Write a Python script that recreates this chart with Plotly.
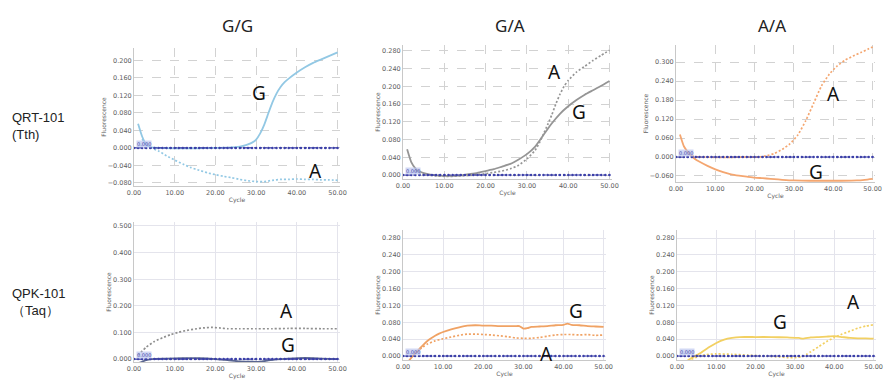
import plotly.graph_objects as go

# ---------------- data ----------------
col_titles = ["G/G", "G/A", "A/A"]
row_labels = ["QRT-101<br>(Tth)", "QPK-101<br>（Taq）"]
x_ticks = [0, 10, 20, 30, 40, 50]
x_ticktext = ["0.00", "10.00", "20.00", "30.00", "40.00", "50.00"]

# Top row (Tth)
tth_gg_G_x = [1, 2, 3, 4, 6, 10, 15, 20, 24, 26, 27, 28, 29, 30, 31, 32, 33, 34, 35, 36, 37, 38, 40, 42, 44, 46, 48, 50]
tth_gg_G_y = [0.055, 0.026, 0.008, 0.002, 0.0, -0.001, -0.001, 0.0, 0.001, 0.003, 0.005, 0.008, 0.012,
              0.019, 0.033, 0.053, 0.079, 0.104, 0.124, 0.139, 0.15, 0.158, 0.172, 0.184, 0.194, 0.202,
              0.21, 0.218]
tth_gg_A_x = [2, 3, 4, 6, 8, 10, 12, 14, 16, 18, 20, 22, 24, 26, 28, 30, 32, 34, 36, 38, 40, 42, 44, 46, 48, 50]
tth_gg_A_y = [0.02, 0.008, 0.001, -0.007, -0.018, -0.028, -0.037, -0.045, -0.051, -0.057, -0.061, -0.065,
              -0.068, -0.072, -0.075, -0.077, -0.077, -0.074, -0.072, -0.072, -0.071, -0.072, -0.072,
              -0.073, -0.073, -0.074]

tth_ga_G_x = [1, 2, 3, 4, 6, 8, 10, 12, 14, 16, 18, 20, 22, 24, 26, 28, 30, 32, 34, 36, 38, 40, 42, 44, 46, 48, 50]
tth_ga_G_y = [0.058, 0.029, 0.015, 0.008, 0.002, -0.001, -0.002, -0.002, -0.001, 0.002, 0.005, 0.009,
              0.013, 0.019, 0.025, 0.035, 0.047, 0.064, 0.09, 0.116, 0.138, 0.155, 0.169, 0.181, 0.191,
              0.201, 0.212]
tth_ga_A_x = [3, 4, 6, 8, 10, 12, 14, 16, 18, 20, 22, 24, 26, 28, 30, 32, 33, 34, 35, 36, 37, 38, 39, 40, 42, 44, 46, 48, 50]
tth_ga_A_y = [0.01, 0.005, 0.0, -0.002, -0.003, -0.003, -0.002, -0.001, 0.001, 0.003, 0.006, 0.009,
              0.014, 0.022, 0.036, 0.056, 0.072, 0.092, 0.113, 0.135, 0.16, 0.182, 0.2, 0.213, 0.232,
              0.245, 0.258, 0.27, 0.281]

tth_aa_G_x = [1, 2, 3, 4, 5, 6, 8, 10, 12, 14, 16, 18, 20, 22, 24, 26, 28, 30, 34, 38, 42, 46, 48, 50]
tth_aa_G_y = [0.071, 0.034, 0.016, 0.002, -0.008, -0.015, -0.028, -0.039, -0.048, -0.055, -0.059,
              -0.062, -0.065, -0.067, -0.069, -0.071, -0.073, -0.074, -0.075, -0.075, -0.075, -0.074,
              -0.072, -0.069]
tth_aa_A_x = [4, 6, 10, 14, 18, 21, 23, 25, 27, 29, 31, 33, 35, 37, 39, 41, 43, 45, 47, 49, 50]
tth_aa_A_y = [0.003, 0.0, -0.001, -0.001, 0.0, 0.0, 0.004, 0.011, 0.024, 0.042, 0.07, 0.115, 0.17,
              0.225, 0.262, 0.288, 0.306, 0.319, 0.33, 0.342, 0.348]

# Bottom row (Taq)
taq_gg_A_x = [1, 2, 3, 5, 7, 9, 11, 13, 15, 17, 19, 21, 23, 26, 30, 34, 38, 42, 46, 50]
taq_gg_A_y = [0.015, 0.03, 0.045, 0.066, 0.08, 0.092, 0.101, 0.108, 0.113, 0.117, 0.119, 0.117,
              0.114, 0.114, 0.114, 0.114, 0.115, 0.115, 0.114, 0.114]
taq_gg_G_x = [1, 2, 3, 5, 8, 12, 16, 20, 23, 26, 29, 31, 33, 35, 38, 42, 46, 50]
taq_gg_G_y = [-0.016, -0.01, -0.004, 0.001, 0.002, 0.003, 0.003, 0.0, -0.004, -0.009, -0.01, -0.01,
              -0.005, -0.001, 0.002, 0.004, 0.002, 0.0]

taq_ga_G_x = [1, 2, 3, 4, 5, 6, 7, 8, 9, 10, 12, 14, 16, 18, 20, 22, 24, 26, 28, 29, 30, 31, 32,
              34, 36, 38, 40, 41, 42, 44, 46, 48, 50]
taq_ga_G_y = [-0.017, -0.005, 0.006, 0.016, 0.026, 0.035, 0.042, 0.048, 0.053, 0.057, 0.063, 0.068,
              0.072, 0.073, 0.072, 0.072, 0.071, 0.071, 0.071, 0.071, 0.065, 0.066, 0.069, 0.07,
              0.071, 0.073, 0.074, 0.077, 0.074, 0.073, 0.071, 0.07, 0.069]
taq_ga_A_x = [2, 3, 4, 5, 6, 8, 10, 12, 14, 16, 18, 20, 22, 24, 26, 28, 30, 32, 34, 36, 38, 40, 42,
              44, 46, 48, 50]
taq_ga_A_y = [-0.003, 0.006, 0.014, 0.022, 0.028, 0.036, 0.041, 0.045, 0.049, 0.052, 0.052, 0.051,
              0.05, 0.048, 0.046, 0.043, 0.042, 0.042, 0.044, 0.047, 0.05, 0.051, 0.051, 0.05, 0.051,
              0.049, 0.05]

taq_aa_G_x = [1, 2, 3, 4, 5, 6, 8, 10, 12, 14, 16, 20, 24, 28, 31, 32, 34, 36, 38, 40, 42, 44, 46, 48, 50]
taq_aa_G_y = [-0.02, -0.015, -0.009, -0.003, 0.002, 0.007, 0.02, 0.031, 0.039, 0.043, 0.045, 0.045,
              0.045, 0.044, 0.043, 0.041, 0.044, 0.045, 0.046, 0.047, 0.045, 0.043, 0.042, 0.042, 0.041]
taq_aa_A_x = [1, 2, 3, 5, 7, 10, 14, 18, 22, 26, 28, 30, 32, 33, 34, 36, 38, 40, 42, 44, 46, 48, 50]
taq_aa_A_y = [-0.021, -0.016, -0.01, -0.003, 0.003, 0.005, 0.004, 0.002, 0.0, -0.002, -0.004, -0.004,
              -0.001, 0.004, 0.01, 0.022, 0.034, 0.044, 0.052, 0.059, 0.066, 0.071, 0.074]

threshold_x = list(range(0, 51))
threshold_value = 0.0

# y tick sets per panel
yt_tth_gg = [-0.08, -0.04, 0.0, 0.04, 0.08, 0.12, 0.16, 0.20]
yt_tth_ga = [0.0, 0.04, 0.08, 0.12, 0.16, 0.20, 0.24, 0.28]
yt_tth_aa = [-0.06, 0.0, 0.06, 0.12, 0.18, 0.24, 0.30]
yt_taq_gg = [0.0, 0.1, 0.2, 0.3, 0.4, 0.5]
yt_taq_ga = [0.0, 0.04, 0.08, 0.12, 0.16, 0.20, 0.24, 0.28]
yt_taq_aa = [0.0, 0.04, 0.08, 0.12, 0.16, 0.20, 0.24, 0.28]

# ---------------- layout geometry ----------------
W, H = 888, 385
panels = [
    dict(px=(134, 340), py=(48, 186), yr=(-0.087, 0.228), yt=yt_tth_gg, top=True),
    dict(px=(403, 612), py=(45, 179), yr=(-0.009, 0.293), yt=yt_tth_ga, top=True),
    dict(px=(676, 875), py=(45, 182), yr=(-0.079, 0.354), yt=yt_tth_aa, top=True),
    dict(px=(134, 340), py=(222, 362), yr=(-0.011, 0.515), yt=yt_taq_gg, top=False),
    dict(px=(403, 606), py=(230, 360), yr=(-0.0095, 0.299), yt=yt_taq_ga, top=False),
    dict(px=(677, 876), py=(230, 360), yr=(-0.0095, 0.299), yt=yt_taq_aa, top=False),
]

series = [
    [(tth_gg_G_x, tth_gg_G_y, "#92c8e4", "solid"), (tth_gg_A_x, tth_gg_A_y, "#92c8e4", "dot")],
    [(tth_ga_G_x, tth_ga_G_y, "#959595", "solid"), (tth_ga_A_x, tth_ga_A_y, "#959595", "dot")],
    [(tth_aa_G_x, tth_aa_G_y, "#f4a670", "solid"), (tth_aa_A_x, tth_aa_A_y, "#f4a670", "dot")],
    [(taq_gg_A_x, taq_gg_A_y, "#8f8f8f", "dot"), (taq_gg_G_x, taq_gg_G_y, "#5a6690", "solid")],
    [(taq_ga_G_x, taq_ga_G_y, "#f0a264", "solid"), (taq_ga_A_x, taq_ga_A_y, "#f0a264", "dot")],
    [(taq_aa_G_x, taq_aa_G_y, "#f2d062", "solid"), (taq_aa_A_x, taq_aa_A_y, "#f2d062", "dot")],
]

letters = [
    [("G", 30.6, 0.126), ("A", 44.7, -0.053)],
    [("A", 36.7, 0.232), ("G", 42.5, 0.142)],
    [("A", 40.1, 0.200), ("G", 35.7, -0.047)],
    [("A", 37.4, 0.180), ("G", 37.9, 0.053)],
    [("G", 43.0, 0.107), ("A", 35.7, 0.004)],
    [("A", 44.9, 0.128), ("G", 26.3, 0.081)],
]

fig = go.Figure()
layout = dict(width=W, height=H, margin=dict(l=0, r=0, t=0, b=0, autoexpand=False),
              paper_bgcolor="white", plot_bgcolor="white", showlegend=False)
annotations = []
tick_font = dict(size=6.5, color="#606060", family="DejaVu Sans")
title_font = dict(size=6, color="#606060", family="DejaVu Sans")

for i, p in enumerate(panels):
    n = i + 1
    xa = "x" if n == 1 else f"x{n}"
    ya = "y" if n == 1 else f"y{n}"
    xkey = "xaxis" if n == 1 else f"xaxis{n}"
    ykey = "yaxis" if n == 1 else f"yaxis{n}"
    grid_dash = "dash" if p["top"] else "solid"
    grid_col = "#d2d2d2" if p["top"] else "#e4e4ec"
    layout[xkey] = dict(
        domain=[p["px"][0] / W, p["px"][1] / W], anchor=ya, automargin=False,
        range=[0, 50.6], tickmode="array", tickvals=x_ticks, ticktext=x_ticktext,
        tickfont=tick_font, ticklabeloverflow="allow",
        showgrid=True, gridcolor=grid_col, griddash=grid_dash, gridwidth=1,
        showline=True, linecolor="#c8c8c8", linewidth=1, zeroline=False, ticks="",
        title=dict(text="Cycle", font=title_font, standoff=2),
    )
    layout[ykey] = dict(
        domain=[1 - p["py"][1] / H, 1 - p["py"][0] / H], anchor=xa, automargin=False,
        range=list(p["yr"]), tickvals=p["yt"], tickformat=".3f", tickfont=tick_font,
        ticklabeloverflow="allow",
        showgrid=True, gridcolor=grid_col, griddash=grid_dash, gridwidth=1,
        showline=True, linecolor="#c8c8c8", linewidth=1, zeroline=False, ticks="",
        title=dict(text="Fluorescence", font=title_font, standoff=0),
    )
    for sx, sy, col, dash in series[i]:
        fig.add_trace(go.Scatter(
            x=sx, y=sy, mode="lines", xaxis=xa, yaxis=ya,
            line=dict(color=col, width=1.8 if dash == "solid" else 1.7,
                      dash="solid" if dash == "solid" else "2px,2px",
                      shape="spline", smoothing=0.5),
            hoverinfo="skip"))
    fig.add_trace(go.Scatter(x=threshold_x, y=[threshold_value] * len(threshold_x),
                             mode="lines+markers", xaxis=xa, yaxis=ya,
                             line=dict(color="#3b3fa8", width=1.2, dash="3px,2px"),
                             marker=dict(size=2.5, color="#3b3fa8"), hoverinfo="skip"))
    annotations.append(dict(x=0.6, y=threshold_value, xref=xa, yref=ya, text="0.000",
                            showarrow=False, xanchor="left", yanchor="bottom",
                            font=dict(size=5, color="#3b3fa8", family="DejaVu Sans"),
                            bgcolor="rgba(190,200,240,0.7)", borderpad=0))
    for t, lx, ly in letters[i]:
        annotations.append(dict(x=lx, y=ly, xref=xa, yref=ya, text=t, showarrow=False,
                                xanchor="center", yanchor="middle",
                                font=dict(size=19, color="#111", family="Noto Sans")))

for title, cx in zip(col_titles, [237, 510, 772]):
    annotations.append(dict(x=cx / W, y=1 - 25 / H, xref="paper", yref="paper", text=title,
                            showarrow=False, xanchor="center", yanchor="middle",
                            font=dict(size=17, color="#222", family="Noto Sans")))
for lab, cy in zip(row_labels, [126, 302]):
    annotations.append(dict(x=10 / W, y=1 - cy / H, xref="paper", yref="paper", text=lab,
                            showarrow=False, xanchor="left", yanchor="middle", align="left",
                            font=dict(size=13, color="#222", family="Liberation Sans")))

layout["annotations"] = annotations
fig.update_layout(**layout)
fig.write_html("out.html", config={"displayModeBar": False},
               post_script="document.body.style.margin='0';")
